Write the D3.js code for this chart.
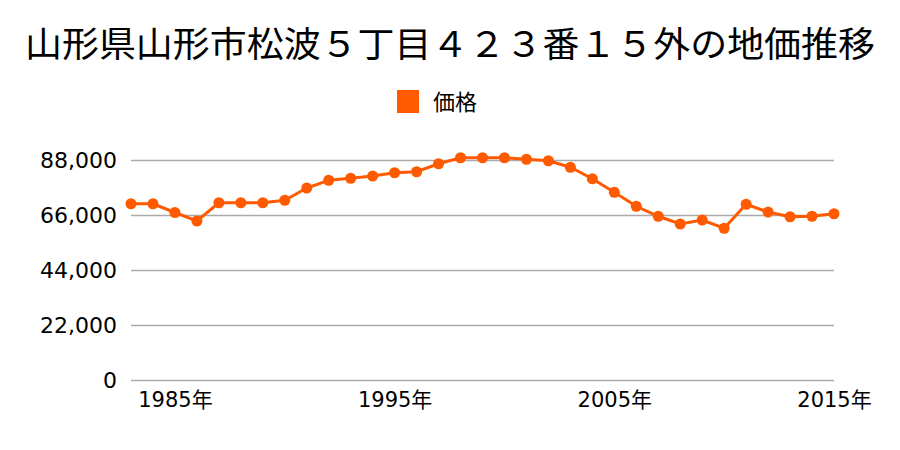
<!DOCTYPE html>
<html><head><meta charset="utf-8">
<script src="https://cdn.jsdelivr.net/npm/d3@7"></script>
<style>body{margin:0;background:#fff;}text{font-family:"Noto Sans CJK JP","Noto Sans",sans-serif;}
.ax text{font-family:"DejaVu Sans","Noto Sans CJK JP",sans-serif;}</style>
</head><body>
<svg id="c" width="900" height="450"></svg>
<script>
const title = "山形県山形市松波５丁目４２３番１５外の地価推移";
const seriesName = "価格";
const years = [1983,1984,1985,1986,1987,1988,1989,1990,1991,1992,1993,1994,1995,1996,1997,1998,1999,2000,2001,2002,2003,2004,2005,2006,2007,2008,2009,2010,2011,2012,2013,2014,2015];
const prices = [70500,70500,67000,63600,70900,70900,70900,71900,76800,79900,80700,81600,82900,83300,86500,88900,88900,88900,88300,87700,85100,80500,75100,69500,65500,62400,64000,60700,70300,67200,65300,65500,66500];
const yTicks = [0,22000,44000,66000,88000];
const xTicks = [1985,1995,2005,2015];
const color = "#ff5a00";

const svg = d3.select("#c");
const x = d3.scaleLinear().domain([1983,2015]).range([131,834]);
const y = d3.scaleLinear().domain([0,88000]).range([380,160]);

svg.append("text").attr("x",450).attr("y",57).attr("text-anchor","middle")
  .attr("font-size",35).attr("fill","#000")
  .attr("textLength",850).attr("lengthAdjust","spacingAndGlyphs").text(title);

svg.append("rect").attr("x",397).attr("y",90).attr("width",22).attr("height",23).attr("fill",color);
svg.append("text").attr("x",433).attr("y",110).attr("font-size",22).attr("fill","#000").text(seriesName);

const yAxis = d3.axisLeft(y).tickValues(yTicks).tickSize(-(834-131)).tickPadding(14)
  .tickFormat(d3.format(","));
const gy = svg.append("g").attr("class","ax").attr("transform","translate(131,0)").call(yAxis);
gy.select(".domain").remove();
gy.selectAll(".tick line").attr("stroke","#aaa").attr("stroke-width",1.5);
gy.selectAll(".tick text").attr("font-size",22).attr("fill","#000").attr("dy","0.35em");

const xAxis = d3.axisBottom(x).tickValues(xTicks).tickSize(0).tickPadding(0).tickFormat(d=>d+"年");
const gx = svg.append("g").attr("class","ax").attr("transform","translate(0,392)").call(xAxis);
gx.select(".domain").remove();
gx.selectAll(".tick text").attr("font-size",21).attr("fill","#000").attr("dy","0.71em");

const data = years.map((yr,i)=>({yr, v:prices[i]}));
svg.append("path").datum(data)
  .attr("d", d3.line().x(d=>x(d.yr)).y(d=>y(d.v)))
  .attr("fill","none").attr("stroke",color).attr("stroke-width",3);
svg.selectAll("circle.pt").data(data).enter().append("circle")
  .attr("class","pt").attr("cx",d=>x(d.yr)).attr("cy",d=>y(d.v)).attr("r",5.5).attr("fill",color);
</script>
</body></html>
